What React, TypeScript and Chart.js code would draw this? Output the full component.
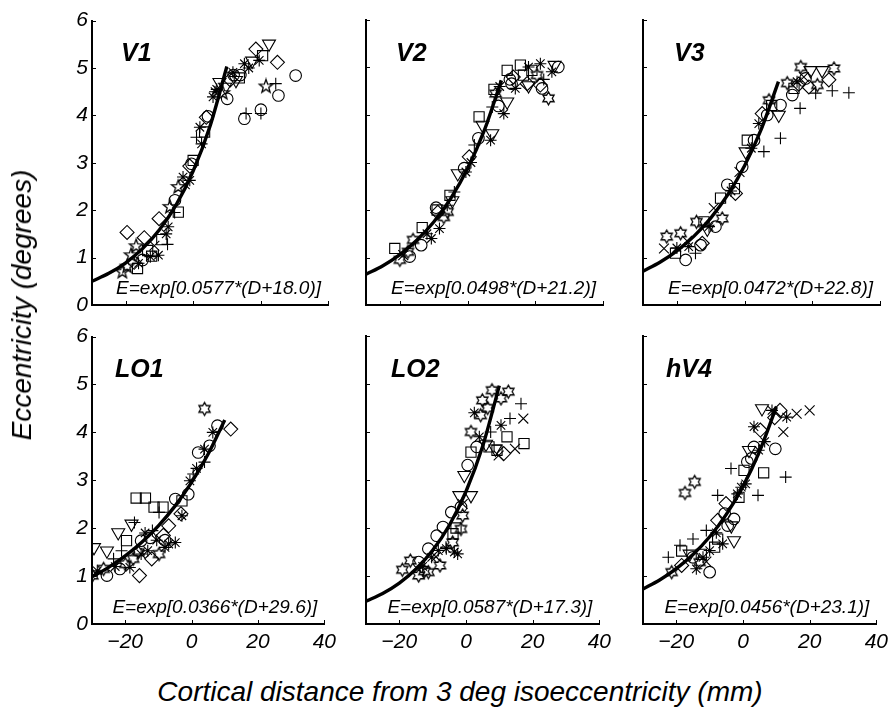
import React, { useEffect, useRef } from "react";
import { Chart, registerables } from "chart.js";
Chart.register(...registerables);

const FONT = '"Liberation Sans", Arial, Helvetica, sans-serif';

// ---------- axis ticks ----------
const X_TICKS = [-20, 0, 20, 40];
const Y_TICKS = [0, 1, 2, 3, 4, 5, 6];

// ---------- fitted curves (read at these cortical distances) ----------
const FIT_D = [-30, -25, -20, -15, -10, -5, 0, 5, 10];
const V1_FIT = [0.5, 0.668, 0.891, 1.189, 1.587, 2.117, 2.825, 3.77, 5.031];
const V2_FIT = [0.645, 0.828, 1.062, 1.362, 1.747, 2.241, 2.874, 3.687, 4.729];
const V3_FIT = [0.712, 0.901, 1.141, 1.445, 1.83, 2.317, 2.933, 3.714, 4.703];
const LO1_FIT = [0.985, 1.183, 1.421, 1.706, 2.049, 2.461, 2.955, 3.548, 4.261];
const LO2_FIT = [0.4745, 0.636, 0.853, 1.145, 1.535, 2.058, 2.761, 3.702, 4.966];
const HV4_FIT = [0.73, 0.917, 1.152, 1.447, 1.817, 2.283, 2.867, 3.602, 4.524];

// ---------- scatter data (marker codes: o s d v + x * p h) ----------
const V1_X = [-19.6, -14.5, -16.9, -21.0, -19.6, -16.5, -12.3, -7.6, -9.3, -10.1, -5.4, -4.4, -6.9, -7.4, -4.4, -1.0, -0.5, -1.0, 1.0, 2.0, 3.4, 3.9, 4.4, 5.9, 7.8, 10.1, 8.8, 11.8, 13.7, 12.7, 15.2, 18.6, 22.5, 20.6, 19.6, 25.0, 21.6, 24.5, 30.4, 25.3, 20.1, 20.1, 15.2, 15.7, -12.7, -10.3, -16.2, -18.4, -3.0, 0.0, 6.5, 9.5, 14.0, 16.5, 17.5, 11.0, -13.5, -15.0, -17.5, -8.0, -5.5, 2.5, -11.5, -2.5, 7.0, 12.0];
const V1_Y = [1.53, 1.42, 1.24, 0.7, 0.81, 0.77, 1.03, 1.28, 1.38, 1.82, 2.21, 1.96, 2.07, 1.65, 2.49, 2.63, 2.98, 2.93, 3.54, 3.75, 3.65, 3.96, 3.98, 4.39, 4.7, 4.35, 4.47, 4.91, 4.79, 4.74, 5.09, 5.4, 5.51, 5.26, 5.16, 5.12, 4.61, 4.67, 4.84, 4.42, 4.12, 4.04, 3.93, 4.04, 1.02, 1.05, 0.88, 1.05, 2.7, 3.05, 4.5, 4.6, 4.85, 5.0, 5.15, 4.75, 1.15, 0.95, 0.9, 1.5, 1.95, 3.4, 1.25, 2.55, 4.55, 4.85];
const V1_M = "ddpppss+sd" + "osp*p*od+*" + "sdo*vop*sv" + "*dvs*dp+oo" + "o+o+***p*s" + "*vo*vdsod*" + "+*xx*o";

const V2_X = [-21.5, -20, -17.1, -17.6, -13.4, -16.1, -13.7, -10.7, -8.3, -9.3, -9.0, -8.8, -5.9, -5.2, -3.9, -2.9, -1.0, -0.5, 0.5, 2.0, 3.2, 6.8, 7.3, 3.4, 4.4, 7.3, 9.1, 11.7, 10.7, 7.8, 8.3, 11.7, 13.0, 14.1, 15.6, 17.6, 18.0, 18.0, 19.0, 21.5, 22.0, 21.5, 23.9, 25.7, 26.8, 24.9, 20.5, 16.5, -19, -12, -7, -6, 1.0, -4.5, 12.5, 9.5, 22.5, 13.5];
const V2_Y = [1.19, 0.95, 1.02, 1.12, 1.63, 1.37, 1.26, 1.4, 1.61, 2.05, 2.0, 1.95, 1.96, 2.31, 2.38, 2.77, 2.88, 2.8, 3.12, 3.37, 3.51, 3.47, 3.61, 3.96, 3.79, 4.17, 4.19, 4.28, 4.03, 4.54, 4.45, 4.94, 4.66, 4.56, 5.05, 4.66, 4.62, 5.01, 4.94, 5.08, 4.56, 4.63, 4.35, 5.05, 5.01, 4.91, 4.84, 4.84, 1.05, 1.5, 1.85, 2.1, 3.0, 2.2, 4.75, 4.6, 4.75, 4.8];
const V2_M = "shohsho**o" + "sdhs+vo*d+" + "o*vsv+ov*s" + "hso*sdv*s*" + "odhvo*hsx*" + "h+*vo*+d";

const V3_X = [-23, -23.8, -20.4, -18.9, -17.4, -14.5, -13, -12.5, -16.5, -17, -14.2, -12, -10.5, -8.6, -6.6, -9.1, -7.1, -5.1, -2.7, -3.0, -4.0, -0.7, 0.3, 0.8, 2.8, 5.7, 10.6, 5.2, 6.7, 10.1, 4.2, 10.6, 7.2, 16.4, 14.1, 14.6, 12.6, 16.0, 16.6, 19.5, 18.0, 24.9, 22.9, 26.4, 21.5, 21.0, 25.9, 30.8, 19.0, 15.5, -20, -11, -1.5, 2, 8, 17.5];
const V3_Y = [1.44, 1.19, 1.09, 1.51, 0.95, 1.09, 1.26, 1.3, 1.23, 1.35, 1.75, 1.75, 1.65, 1.65, 1.82, 2.04, 2.25, 2.53, 2.35, 2.45, 2.4, 2.91, 3.23, 3.47, 3.47, 3.23, 3.51, 4.03, 4.0, 4.0, 3.82, 4.21, 4.31, 4.14, 4.42, 4.56, 4.67, 4.65, 5.01, 4.94, 4.77, 4.74, 4.94, 4.98, 4.63, 4.46, 4.51, 4.47, 4.59, 4.7, 1.2, 1.6, 2.8, 3.3, 4.2, 4.8];
const V3_M = "hxsho+od*x" + "hs*ohxsods" + "*ovso++dov" + "*oh+oshdhv" + "odvhh+++d*" + "*vx*sx";

const LO1_X = [-29.9, -28.4, -25.5, -26.5, -21.6, -29.4, -25.5, -22.1, -18.1, -17.2, -23.5, -21.1, -19.6, -16.7, -13.9, -11.3, -8.6, -9.8, -15.7, -12.0, -18.6, -15.2, -13.2, -4.9, -6.9, -9.8, -15.2, -6.9, -4.9, -2.9, -3.2, -1.0, -2.9, -0.5, 0.5, 2.0, 3.9, 5.4, 6.4, 11.8, 7.8, 3.9, 3.9, -17.6, -11.8, -10.5, -12.5, -8, -8.5, -20, -23, -8, -14, -16, 1.5];
const LO1_Y = [1.01, 1.11, 1.01, 1.15, 1.15, 1.6, 1.53, 1.91, 2.09, 2.12, 1.36, 1.53, 1.74, 2.63, 2.63, 2.44, 2.44, 2.33, 1.01, 1.36, 1.18, 1.46, 1.53, 1.7, 1.67, 1.46, 1.74, 2.05, 2.61, 2.26, 2.3, 2.71, 2.57, 2.99, 3.13, 3.58, 4.49, 3.72, 4.0, 4.07, 4.14, 3.65, 3.38, 1.36, 1.95, 1.75, 1.8, 1.6, 1.85, 1.25, 1.2, 1.75, 1.9, 1.5, 3.25];
const LO1_M = "h*ohovvvv+" + "++sssss+dd" + "*****hodo*" + "dos*+oho*d" + "o*+h+*o*dh" + "*o*h*";

const LO2_X = [-19.1, -16.7, -14.2, -11.3, -7.8, -14.2, -11.3, -8.8, -6.9, -4.4, -10.3, -5.9, -2.5, -8.3, -3.9, -1.5, -2.0, 1.5, -0.5, -1.5, -1.0, 0.5, 1.5, 3.2, 1.5, 2.5, 4.4, 4.9, 7.8, 12.7, 10.5, 7.4, 10.5, 13.2, 16.5, 17.2, 12.3, 17.4, 9.3, 6.9, 14.7, 11.3, 9.8, 8.8, 6.0, -13, -9, -6, -4, -3.5, -3, -12.5, 4, -1, 6.5];
const LO2_Y = [1.13, 1.32, 1.01, 1.08, 1.22, 1.29, 1.57, 1.84, 2.02, 2.33, 1.39, 1.57, 1.46, 1.53, 1.88, 1.98, 2.68, 2.68, 3.1, 2.44, 2.26, 3.31, 3.58, 3.69, 4.0, 4.4, 4.35, 4.66, 4.87, 4.84, 4.7, 4.0, 4.14, 4.28, 4.59, 4.28, 3.9, 3.76, 3.62, 3.69, 3.65, 3.55, 3.51, 3.65, 3.75, 1.2, 1.4, 1.6, 1.7, 1.5, 2.0, 1.1, 3.9, 2.5, 4.5];
const LO2_M = "hhhhhooooo" + "****shvvvo" + "hosoh*hhhh" + "h+*++xssss" + "xdxvv*x+h*" + "sh*xh";

const HV4_X = [-17.4, -14.5, -22.4, -18.9, -18.4, -21.4, -18.4, -15.0, -11.0, -7.6, -3.6, 4.5, 12.8, 6.2, 0.3, -10.0, -2.7, -2.7, -7.6, -5.1, -7.6, -14.0, -12.0, -10.0, -13.0, -15.0, -16.0, -4.6, -6.1, -1.2, -1.7, 1.3, 1.8, 4.7, 9.7, 3.3, 5.2, 3.3, 12.1, 5.7, 8.7, 11.1, 13.1, 16.1, 20.0, 0.8, -11, -8.5, -8, -5.5, -3.5, -0.5, 2.5, 6.5, -12.5, 9.5];
const HV4_Y = [2.73, 2.96, 1.39, 1.64, 1.52, 1.08, 1.22, 1.77, 1.95, 2.68, 3.24, 2.68, 3.06, 3.15, 3.2, 1.08, 1.74, 2.19, 2.16, 2.51, 1.77, 1.15, 1.39, 1.53, 1.29, 1.39, 1.46, 2.05, 1.67, 2.64, 2.71, 3.38, 3.62, 3.62, 3.65, 3.69, 4.04, 4.11, 4.0, 4.49, 4.45, 4.45, 4.31, 4.38, 4.45, 2.92, 1.3, 1.6, 1.9, 2.3, 2.05, 2.85, 3.45, 3.8, 1.45, 4.3];
const HV4_M = "hh++shd+++" + "+++ssovodd" + "s***hovo*s" + "*ov*ood*xv" + "*d*xx*xs*o" + "v*o*sd";

const PANEL_NAMES = ["V1", "V2", "V3", "LO1", "LO2", "hV4"];
const PANEL_EQS = [
  "E=exp[0.0577*(D+18.0)]",
  "E=exp[0.0498*(D+21.2)]",
  "E=exp[0.0472*(D+22.8)]",
  "E=exp[0.0366*(D+29.6)]",
  "E=exp[0.0587*(D+17.3)]",
  "E=exp[0.0456*(D+23.1)]",
];
const PANEL_XS = [V1_X, V2_X, V3_X, LO1_X, LO2_X, HV4_X];
const PANEL_YS = [V1_Y, V2_Y, V3_Y, LO1_Y, LO2_Y, HV4_Y];
const PANEL_MS = [V1_M, V2_M, V3_M, LO1_M, LO2_M, HV4_M];
const PANEL_FITS = [V1_FIT, V2_FIT, V3_FIT, LO1_FIT, LO2_FIT, HV4_FIT];

// ---------- layout (pixels) ----------
const COL_LEFT = [92, 366, 643];
const COL_W = [236, 237, 237];
const ROW_TOP = [20, 336];
const ROW_H = [285, 288];
const PAD_L = 70;
const PAD_T = 16;
const PAD_R = 14;
const PAD_B = 46;
const TITLE_DX = [29, 30, 31, 23, 25, 23];

const starCache: Record<string, HTMLCanvasElement> = {};
function starImage(points: number, outerR: number, innerR: number) {
  const key = points + "_" + outerR;
  if (starCache[key]) return starCache[key];
  const size = Math.ceil(outerR * 2 + 4);
  const c = document.createElement("canvas");
  c.width = size;
  c.height = size;
  const g = c.getContext("2d")!;
  g.strokeStyle = "#000";
  g.lineWidth = 1.3;
  g.lineJoin = "miter";
  g.beginPath();
  for (let k = 0; k < points * 2; k++) {
    const r = k % 2 === 0 ? outerR : innerR;
    const a = -Math.PI / 2 + (k * Math.PI) / points;
    const x = size / 2 + r * Math.cos(a);
    const y = size / 2 + r * Math.sin(a);
    if (k === 0) g.moveTo(x, y);
    else g.lineTo(x, y);
  }
  g.closePath();
  g.stroke();
  starCache[key] = c;
  return c;
}

function markerStyle(code: string): any {
  switch (code) {
    case "o": return { pointStyle: "circle", pointRadius: 5.8 };
    case "s": return { pointStyle: "rect", pointRadius: 7.2 };
    case "d": return { pointStyle: "rectRot", pointRadius: 7 };
    case "v": return { pointStyle: "triangle", pointRadius: 7.5, pointRotation: 180 };
    case "+": return { pointStyle: "cross", pointRadius: 6 };
    case "x": return { pointStyle: "crossRot", pointRadius: 7 };
    case "*": return { pointStyle: "star", pointRadius: 6 };
    case "p": return { pointStyle: starImage(5, 7, 2.9), pointRadius: 7 };
    default: return { pointStyle: starImage(6, 6.5, 3.75), pointRadius: 7 };
  }
}

const MARKER_ORDER = ["o", "s", "d", "v", "p", "h", "+", "x", "*"];

function Panel({ idx }: { idx: number }) {
  const ref = useRef<HTMLCanvasElement | null>(null);
  const col = idx % 3;
  const row = Math.floor(idx / 3);
  const W = COL_W[col] + PAD_L + PAD_R;
  const H = ROW_H[row] + PAD_T + PAD_B;

  useEffect(() => {
    const xs = PANEL_XS[idx];
    const ys = PANEL_YS[idx];
    const ms = PANEL_MS[idx].split("");
    const fit = PANEL_FITS[idx];
    const name = PANEL_NAMES[idx];
    const eq = PANEL_EQS[idx];

    const datasets: any[] = [
      {
        type: "line",
        data: FIT_D.map((d, i) => ({ x: d, y: fit[i] })),
        borderColor: "#000",
        borderWidth: 3.4,
        pointRadius: 0,
        cubicInterpolationMode: "monotone",
        fill: false,
      },
    ];
    for (const code of MARKER_ORDER) {
      const pts: any[] = [];
      ms.forEach((m, i) => {
        if (m === code) pts.push({ x: xs[i], y: ys[i] });
      });
      if (!pts.length) continue;
      const st = markerStyle(code);
      datasets.push({
        type: "scatter",
        data: pts,
        borderColor: "#000",
        backgroundColor: "rgba(0,0,0,0)",
        borderWidth: 1,
        pointBorderWidth: 1.1,
        pointHoverRadius: st.pointRadius,
        ...st,
      });
    }

    const deco = {
      id: "deco" + idx,
      afterDraw(chart: any) {
        const { ctx, chartArea: a, scales } = chart;
        ctx.save();
        ctx.strokeStyle = "#000";
        ctx.lineWidth = 1;
        ctx.beginPath();
        for (const v of X_TICKS) {
          const px = Math.round(scales.x.getPixelForValue(v)) + 0.5;
          ctx.moveTo(px, a.bottom);
          ctx.lineTo(px, a.bottom - 4);
        }
        for (const v of Y_TICKS) {
          const py = Math.round(scales.y.getPixelForValue(v)) + 0.5;
          ctx.moveTo(a.left, py);
          ctx.lineTo(a.left + 4, py);
        }
        ctx.stroke();
        ctx.fillStyle = "#000";
        ctx.textBaseline = "middle";
        ctx.textAlign = "left";
        ctx.font = `italic bold 25px ${FONT}`;
        ctx.fillText(name, a.left + TITLE_DX[idx], a.top + 34);
        ctx.textAlign = "right";
        ctx.font = `italic 19px ${FONT}`;
        ctx.fillText(eq, a.right - 7, a.bottom - 16);
        ctx.restore();
      },
    };

    const chart = new Chart(ref.current as HTMLCanvasElement, {
      type: "scatter",
      data: { datasets },
      options: {
        responsive: false,
        maintainAspectRatio: false,
        animation: false,
        devicePixelRatio: 1,
        events: [],
        layout: { padding: { left: 0, top: PAD_T, right: PAD_R, bottom: 0 } },
        plugins: { legend: { display: false }, tooltip: { enabled: false }, title: { display: false } },
        scales: {
          x: {
            type: "linear",
            min: -30,
            max: 40,
            afterBuildTicks: (s: any) => {
              s.ticks = X_TICKS.map((v) => ({ value: v }));
            },
            afterFit: (s: any) => {
              s.height = PAD_B;
            },
            grid: { display: false, drawTicks: false },
            border: { display: true, color: "#000", width: 2 },
            ticks: {
              display: row === 1,
              color: "#000",
              padding: 6,
              maxRotation: 0,
              autoSkip: false,
              font: { family: FONT, size: 21, style: "italic" },
              callback: (v: any) => (Number(v) < 0 ? "\u2212" + Math.abs(Number(v)) : String(v)),
            },
          },
          y: {
            type: "linear",
            min: 0,
            max: 6,
            afterBuildTicks: (s: any) => {
              s.ticks = Y_TICKS.map((v) => ({ value: v }));
            },
            afterFit: (s: any) => {
              s.width = PAD_L;
            },
            grid: { display: false, drawTicks: false },
            border: { display: true, color: "#000", width: 2 },
            ticks: {
              display: col === 0,
              color: "#000",
              padding: 4,
              autoSkip: false,
              font: { family: FONT, size: 21, style: "italic" },
            },
          },
        },
      } as any,
      plugins: [deco],
    } as any);
    return () => chart.destroy();
  }, [idx]);

  return (
    <canvas
      ref={ref}
      width={W}
      height={H}
      style={{
        position: "absolute",
        left: COL_LEFT[col] - PAD_L,
        top: ROW_TOP[row] - PAD_T,
        width: W,
        height: H,
      }}
    />
  );
}

export default function App() {
  return (
    <div
      style={{
        position: "absolute",
        left: 0,
        top: 0,
        width: 892,
        height: 707,
        background: "#fff",
        overflow: "hidden",
      }}
    >
      {PANEL_NAMES.map((n, i) => (
        <Panel key={n} idx={i} />
      ))}
      <div
        style={{
          position: "absolute",
          left: 22,
          top: 305,
          transform: "translate(-50%, -50%) rotate(-90deg)",
          whiteSpace: "nowrap",
          font: `italic 28px ${FONT}`,
          lineHeight: "28px",
          color: "#000",
        }}
      >
        Eccentricity (degrees)
      </div>
      <div
        style={{
          position: "absolute",
          left: 460,
          top: 692,
          transform: "translate(-50%, -50%)",
          whiteSpace: "nowrap",
          font: `italic 28px ${FONT}`,
          lineHeight: "28px",
          color: "#000",
        }}
      >
        Cortical distance from 3 deg isoeccentricity (mm)
      </div>
    </div>
  );
}
